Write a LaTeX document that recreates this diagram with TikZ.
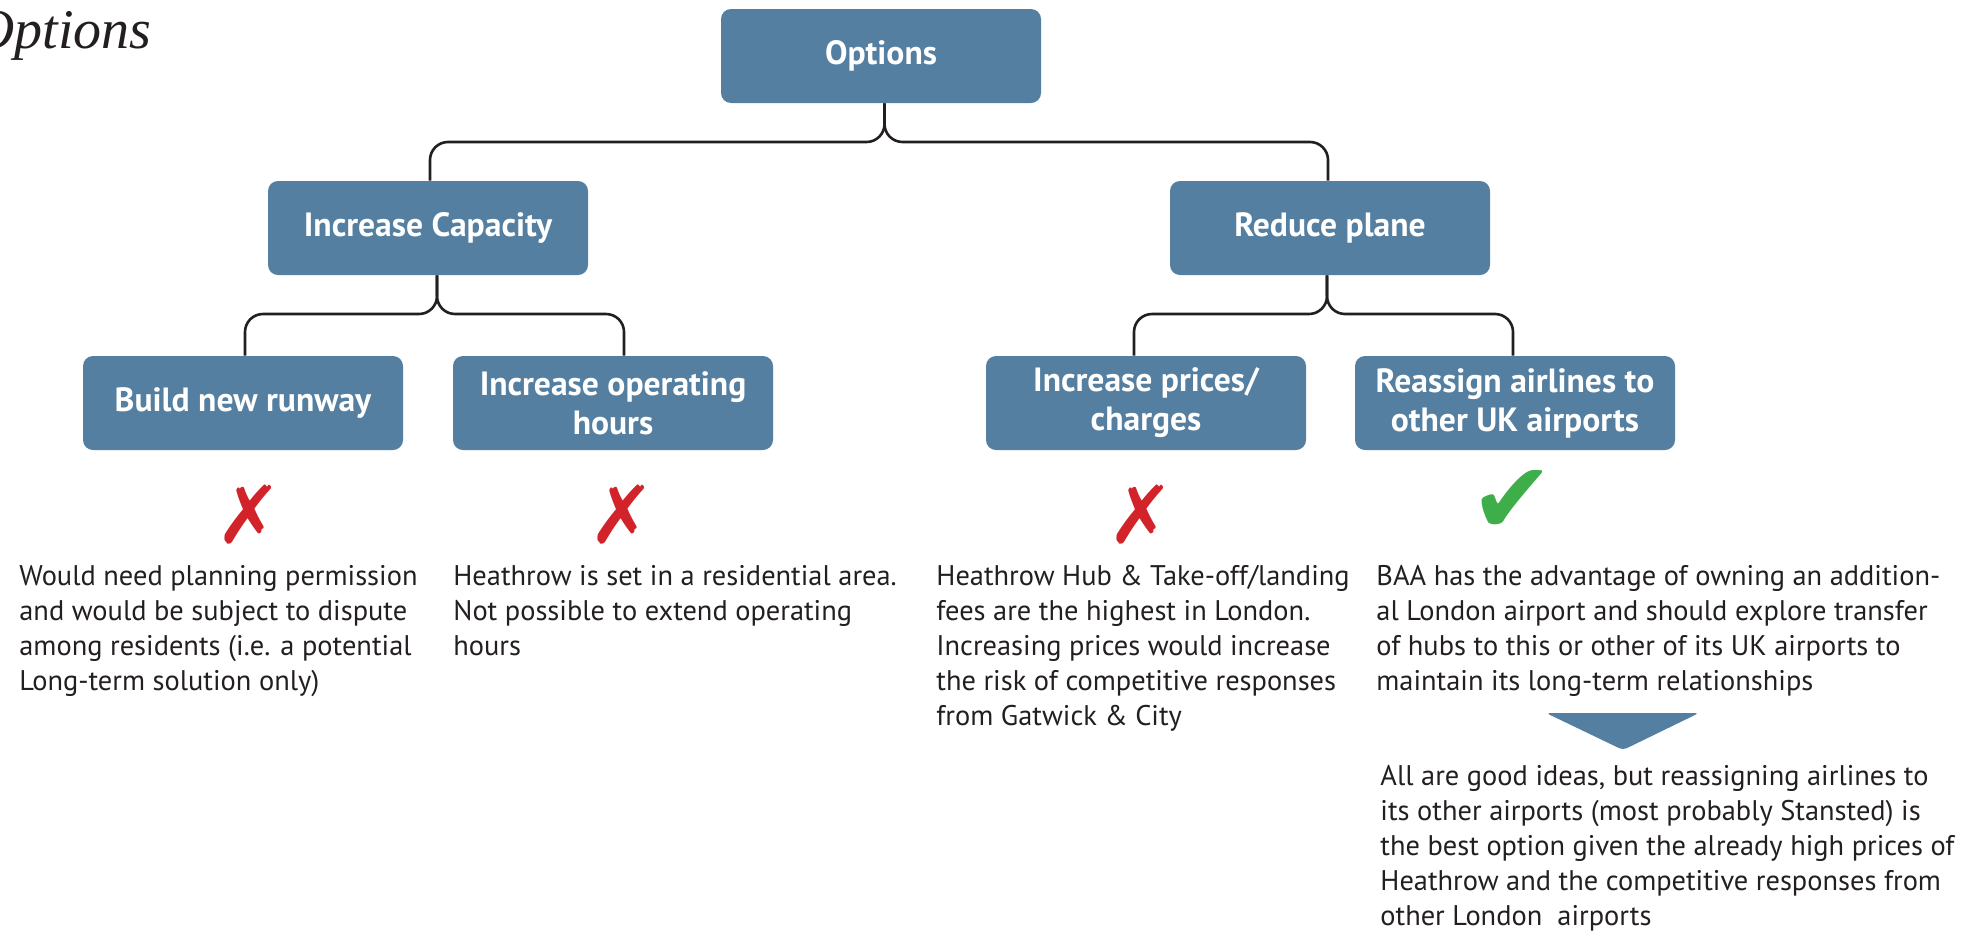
\documentclass[tikz,border=0pt]{standalone}
\usepackage{fontspec}
\setmainfont{PT Sans}
\newfontfamily\titlefont{Liberation Serif}
\newfontfamily\markfont{DejaVu Sans}
\usetikzlibrary{calc}

\definecolor{optblue}{RGB}{84,127,160}
\definecolor{inkgray}{RGB}{35,31,32}
\definecolor{crossred}{RGB}{210,35,42}
\definecolor{tickgreen}{RGB}{61,174,73}

\tikzset{
    optbox/.style={fill=optblue, rounded corners=5pt, minimum width=160pt,
        minimum height=47pt, inner sep=0pt, align=center, text=white,
        font=\bfseries\fontsize{16.8}{19.5}\selectfont},
    branch/.style={draw=inkgray, line width=1.3pt, rounded corners=9pt},
    note/.style={anchor=north west, align=left, inner sep=0pt, text=inkgray,
        font=\fontsize{14.2}{17.5}\selectfont},
    crossmark/.style={text=crossred, inner sep=0pt, font=\markfont\fontsize{40}{40}\selectfont},
    tickmark/.style={text=tickgreen, inner sep=0pt, font=\markfont\fontsize{50}{50}\selectfont}
}

\begin{document}
\begin{tikzpicture}[x=0.5pt,y=-0.5pt]

    \clip (0,0) rectangle (1973,932);

    \node[anchor=base west, inner sep=0pt, text=inkgray,
        font=\titlefont\itshape\fontsize{28}{28}\selectfont] (title) at (-26,48) {Options};

    % tree
    \node[optbox] (opt) at (881,56) {Options};
    \node[optbox] (cap) at (428,228) {Increase Capacity};
    \node[optbox] (red) at (1330,228) {Reduce plane};
    \node[optbox] (run) at (243,403) {Build new runway};
    \node[optbox] (hrs) at (613,403) {Increase operating\\hours};
    \node[optbox] (prc) at (1146,403) {Increase prices/\\charges};
    \node[optbox] (hub) at (1515,403) {Reassign airlines to\\other UK airports};

    \coordinate (lvlA) at (0,142);
    \coordinate (lvlB) at (0,314);

    \draw[branch] ([xshift=1.75pt]opt.south) -- ([xshift=1.75pt]opt.south |- lvlA) -- ([xshift=1pt]cap.north |- lvlA) -- ([xshift=1pt]cap.north);
    \draw[branch] ([xshift=1.75pt]opt.south) -- ([xshift=1.75pt]opt.south |- lvlA) -- ([xshift=-1pt]red.north |- lvlA) -- ([xshift=-1pt]red.north);

    \draw[branch] ([xshift=4.5pt]cap.south) -- ([xshift=4.5pt]cap.south |- lvlB) -- ([xshift=1pt]run.north |- lvlB) -- ([xshift=1pt]run.north);
    \draw[branch] ([xshift=4.5pt]cap.south) -- ([xshift=4.5pt]cap.south |- lvlB) -- ([xshift=5.5pt]hrs.north |- lvlB) -- ([xshift=5.5pt]hrs.north);

    \draw[branch] ([xshift=-1.5pt]red.south) -- ([xshift=-1.5pt]red.south |- lvlB) -- ([xshift=-6pt]prc.north |- lvlB) -- ([xshift=-6pt]prc.north);
    \draw[branch] ([xshift=-1.5pt]red.south) -- ([xshift=-1.5pt]red.south |- lvlB) -- ([xshift=-1pt]hub.north |- lvlB) -- ([xshift=-1pt]hub.north);

    % verdicts
    \node[crossmark] (xrun) at (249,515) {✗};
    \node[crossmark] (xhrs) at (622,515) {✗};
    \node[crossmark] (xprc) at (1141,515) {✗};
    \node[tickmark] (ok) at (1512,502) {✔};

    \node[note] (trun) at (19,565) {Would need planning permission\\and would be subject to dispute\\among residents (i.e. a potential\\Long-term solution only)};
    \node[note] (thrs) at (453,565) {Heathrow is set in a residential area.\\Not possible to extend operating\\hours};
    \node[note] (tprc) at (936,565) {Heathrow Hub \& Take-off/landing\\fees are the highest in London.\\Increasing prices would increase\\the risk of competitive responses\\from Gatwick \& City};
    \node[note] (thub) at (1376,565) {BAA has the advantage of owning an addition-\\al London airport and should explore transfer\\of hubs to this or other of its UK airports to\\maintain its long-term relationships};

    \fill[optblue, rounded corners=2pt] (1546,713) -- (1699,713) -- (1623,750) -- cycle;

    \node[note] (tend) at (1380,765) {All are good ideas, but reassigning airlines to\\its other airports (most probably Stansted) is\\the best option given the already high prices of\\Heathrow and the competitive responses from\\other London\ \ airports};
\end{tikzpicture}
\end{document}
